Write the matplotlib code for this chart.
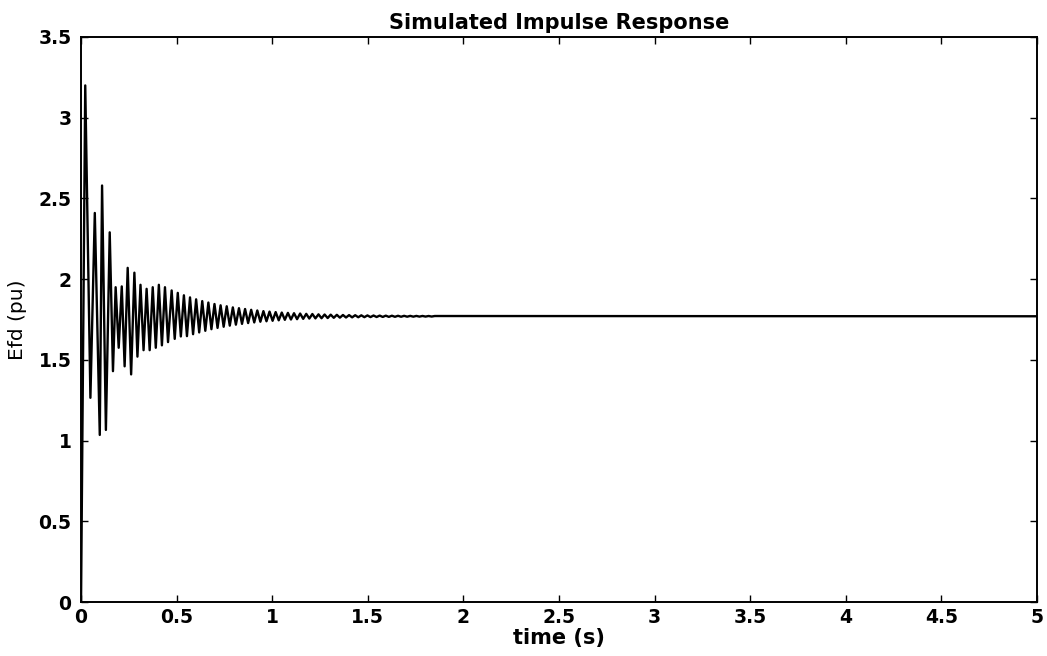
import numpy as np
import matplotlib
matplotlib.use("Agg")
import matplotlib.pyplot as plt

# extrema of the trace (time in s, Efd in pu)
ext_t = [0.000, 0.022, 0.049, 0.072, 0.098, 0.110, 0.130, 0.150, 0.167, 0.181,
         0.197, 0.213, 0.228, 0.244, 0.262, 0.279, 0.295, 0.311, 0.327, 0.343,
         0.359, 0.375, 0.391, 0.407, 0.423, 0.439, 0.455, 0.474, 0.490, 0.506,
         0.522, 0.538, 0.554, 0.570, 0.586, 0.602, 0.618, 0.634, 0.650, 0.666,
         0.682, 0.698, 0.714, 0.730, 0.746, 0.762, 0.778, 0.794, 0.810, 0.826,
         0.842, 0.858, 0.874, 0.890, 0.906, 0.922, 0.938, 0.954, 0.970, 0.986,
         1.002, 1.018, 1.034, 1.050, 1.066, 1.082, 1.098, 1.114, 1.130, 1.146,
         1.162, 1.178, 1.194, 1.210, 1.226, 1.242, 1.258, 1.274, 1.290, 1.306,
         1.322, 1.338, 1.354, 1.370, 1.386, 1.402, 1.418, 1.434, 1.450, 1.466,
         1.482, 1.498, 1.514, 1.530, 1.546, 1.562, 1.578, 1.594, 1.610, 1.626,
         1.642, 1.658, 1.674, 1.690, 1.706, 1.722, 1.738, 1.754, 1.770, 1.786,
         1.802, 1.818, 1.834, 1.850, 5.000]
ext_y = [0.000, 3.200, 1.265, 2.410, 1.035, 2.580, 1.066, 2.290, 1.430, 1.950,
         1.575, 1.955, 1.460, 2.070, 1.410, 2.040, 1.520, 1.965, 1.560, 1.940,
         1.560, 1.950, 1.575, 1.965, 1.590, 1.950, 1.610, 1.930, 1.630, 1.915,
         1.645, 1.900, 1.647, 1.887, 1.659, 1.875, 1.670, 1.864, 1.680, 1.855,
         1.690, 1.846, 1.698, 1.838, 1.705, 1.832, 1.712, 1.825, 1.718, 1.820,
         1.723, 1.815, 1.728, 1.810, 1.732, 1.806, 1.736, 1.802, 1.739, 1.799,
         1.742, 1.796, 1.745, 1.793, 1.748, 1.791, 1.750, 1.789, 1.752, 1.787,
         1.754, 1.785, 1.756, 1.784, 1.757, 1.782, 1.758, 1.781, 1.759, 1.780,
         1.7605, 1.779, 1.7615, 1.778, 1.7625, 1.7773, 1.7633, 1.7766, 1.7640, 1.7759,
         1.7645, 1.7753, 1.7650, 1.7748, 1.7655, 1.7743, 1.7659, 1.7739, 1.7663, 1.7735,
         1.7667, 1.7731, 1.7671, 1.7728, 1.7674, 1.7725, 1.7676, 1.7722, 1.7679, 1.7720,
         1.7681, 1.7718, 1.7683, 1.7716, 1.7700]

xticks = [0, 0.5, 1, 1.5, 2, 2.5, 3, 3.5, 4, 4.5, 5]
yticks = [0, 0.5, 1, 1.5, 2, 2.5, 3, 3.5]
tick_labels_x = ['0', '0.5', '1', '1.5', '2', '2.5', '3', '3.5', '4', '4.5', '5']
tick_labels_y = ['0', '0.5', '1', '1.5', '2', '2.5', '3', '3.5']

plt.rcParams['font.family'] = ['DejaVu Sans']

fig = plt.figure(figsize=(10.47, 6.56), dpi=100)
ax = fig.add_axes([0.0774, 0.0823, 0.9130, 0.8613])

ax.plot(ext_t, ext_y, color='black', lw=1.7)

ax.set_xlim(0, 5)
ax.set_ylim(0, 3.5)
ax.set_xticks(xticks)
ax.set_xticklabels(tick_labels_x)
ax.set_yticks(yticks)
ax.set_yticklabels(tick_labels_y)
ax.tick_params(direction='in', length=5, width=1.0, top=True, right=True,
               labelsize=13.5)
ax.tick_params(axis='x', pad=4)
ax.tick_params(axis='y', pad=7)
for lab in ax.get_xticklabels() + ax.get_yticklabels():
    lab.set_fontweight('bold')
for sp in ax.spines.values():
    sp.set_linewidth(1.4)

ax.set_title('Simulated Impulse Response', fontsize=15, fontweight='bold', pad=6)
ax.set_xlabel('time (s)', fontsize=15, fontweight='bold', labelpad=1)
ax.set_ylabel('Efd (pu)', fontsize=14.5, labelpad=8)

fig.savefig('out.png', dpi=100)
